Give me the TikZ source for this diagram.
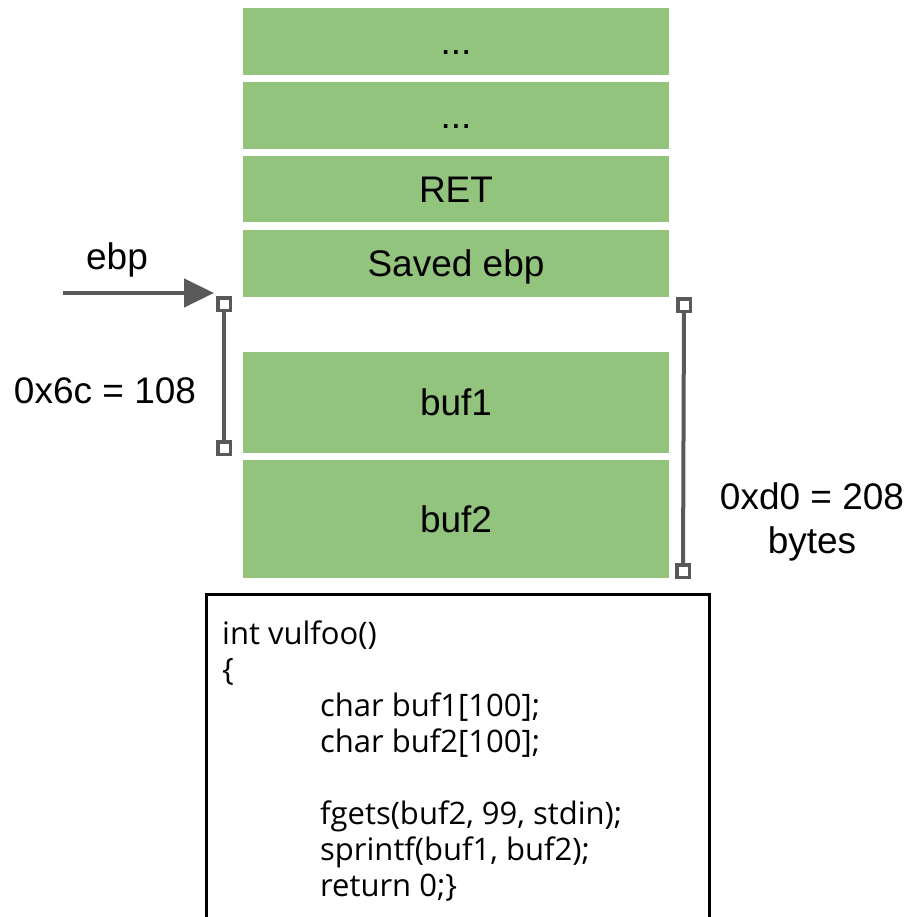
\documentclass[tikz,border=0pt]{standalone}
\usepackage{fontspec}
\setmainfont{Liberation Sans}
\newfontfamily\codefont{Open Sans}
\usetikzlibrary{arrows.meta}
\definecolor{stackgreen}{HTML}{93C47D}
\definecolor{markgray}{HTML}{595959}
\begin{document}
\begin{tikzpicture}[x=1pt,y=-1pt,
  cell/.style={fill=stackgreen,draw=none,minimum width=426pt,inner sep=0pt,
    font=\fontsize{37}{42}\selectfont,text=black,text height=26.5pt,text depth=0pt},
  handle/.style={draw=markgray,fill=white,line width=3.5pt,minimum size=12.5pt,inner sep=0pt},
  span/.style={draw=markgray,line width=4pt},
  lbl/.style={font=\fontsize{37}{44}\selectfont,text=black,align=center}]
\clip (0,0) rectangle (909,917);
\fill[white] (0,0) rectangle (909,917);
% stack frame cells
\node[cell,minimum height=67pt] (c1) at (456,41.5) {...};
\node[cell,minimum height=67pt] (c2) at (456,115.5) {...};
\node[cell,minimum height=66pt] (ret) at (456,189) {RET};
\node[cell,minimum height=67pt] (sebp) at (456,263.5) {Saved ebp};
\node[cell,minimum height=101pt] (buf1) at (456,402.5) {buf1};
\node[cell,minimum height=118pt] (buf2) at (456,519) {buf2};
% ebp pointer
\node[lbl] (ebplbl) at (117,260) {ebp};
\coordinate (ebpstart) at (63,293);
\coordinate (ebptip) at (214,293);
\draw[markgray,line width=4.5pt,-{Triangle[length=30pt,width=28pt]}] (ebpstart) -- (ebptip);
% distance from ebp to buf1
\node[handle] (lt) at (224,304) {};
\node[handle] (lb) at (224,448) {};
\draw[span] (lt) -- (lb);
\node[lbl] (lbl108) at (105,391) {0x6c = 108};
% distance from ebp to buf2
\node[handle] (rt) at (684,305) {};
\node[handle] (rb) at (683,571) {};
\draw[span] (rt) -- (rb);
\node[lbl] (lbl208) at (812,522) {0xd0 = 208\\bytes};
% source code
\draw[black,line width=3pt] (206.5,594.5) rectangle (709,940);
\node[anchor=north west,inner sep=0pt,align=left,text=black,
  font=\codefont\fontsize{31}{35.9}\selectfont] (code) at (222,621) {%
int vulfoo()\\
\{\\
\hspace*{98pt}char buf1[100];\\
\hspace*{98pt}char buf2[100];\\
\mbox{}\\
\hspace*{98pt}fgets(buf2, 99, stdin);\\
\hspace*{98pt}sprintf(buf1, buf2);\\
\hspace*{98pt}return 0;\}};
\end{tikzpicture}
\end{document}
